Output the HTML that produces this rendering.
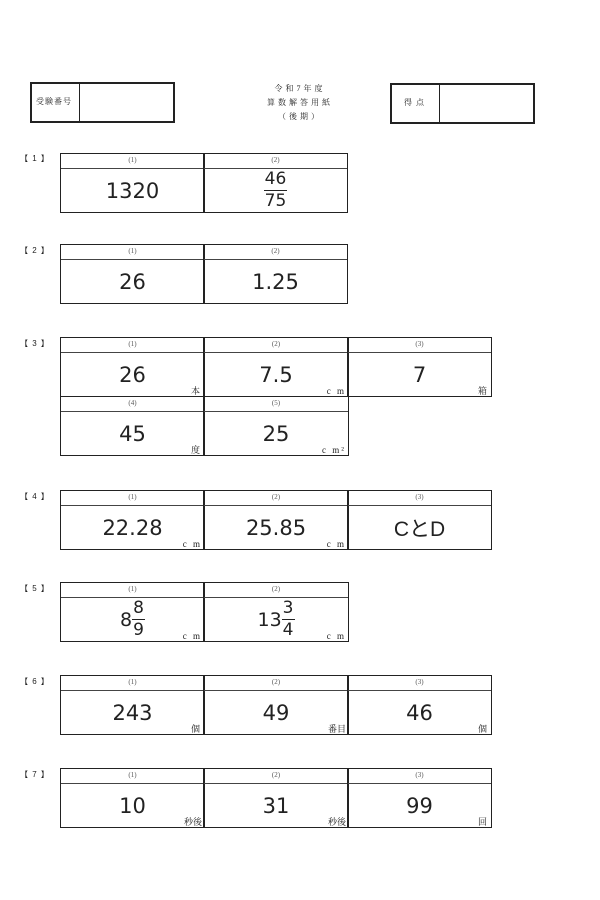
<!DOCTYPE html>
<html><head><meta charset="utf-8"><style>
body{margin:0;width:600px;height:900px;background:#fff;position:relative;font-family:"Liberation Serif","Noto Serif CJK SC",serif;color:#222;overflow:hidden}
.a{position:absolute}
.box{position:absolute;border:2px solid #222;box-sizing:border-box}
.t{position:absolute;box-sizing:border-box;border:1.6px solid #222;display:flex;flex-direction:column}
.hd{height:14px;border-bottom:1px solid #444;font-size:7px;text-align:center;line-height:13px;color:#555}
.bd{flex:1;position:relative;font-family:"DejaVu Sans",sans-serif;font-size:21px;display:flex;align-items:center;justify-content:center}
.u{position:absolute;right:2px;bottom:0;font-family:"Liberation Serif","Noto Serif CJK SC",serif;font-size:9px;line-height:10px;letter-spacing:2px}
.lab{position:absolute;left:20px;font-size:8px;font-family:"Liberation Sans","Noto Sans CJK JP",sans-serif;letter-spacing:1px}
.fr{display:inline-flex;flex-direction:column;align-items:center;line-height:21px}
.fr span:first-child{border-bottom:1.5px solid #222;padding:0 1px}
</style></head><body>
<div class="box" style="left:30px;top:82px;width:145px;height:41px"></div>
<div class="a" style="left:79px;top:82px;width:1px;height:41px;background:#222"></div>
<div class="a" style="left:36px;top:96px;font-size:8px;letter-spacing:1px">受験番号</div>
<div class="a" style="left:240px;top:82px;width:120px;text-align:center;font-size:8px;line-height:14px;letter-spacing:3px">令和7年度<br>算数解答用紙<br>（後期）</div>
<div class="box" style="left:390px;top:83px;width:145px;height:41px"></div>
<div class="a" style="left:439px;top:83px;width:1px;height:41px;background:#222"></div>
<div class="a" style="left:404px;top:97px;font-size:8px;letter-spacing:4px">得点</div>

<div class="lab" style="top:153px">【 1 】</div>
<div class="t" style="left:60px;top:153px;width:145px;height:60px"><div class="hd">(1)</div><div class="bd">1320</div></div>
<div class="t" style="left:203px;top:153px;width:145px;height:60px"><div class="hd">(2)</div><div class="bd" style="font-size:17px"><div class="fr"><span>46</span><span>75</span></div></div></div>

<div class="lab" style="top:245px">【 2 】</div>
<div class="t" style="left:60px;top:244px;width:145px;height:60px"><div class="hd">(1)</div><div class="bd">26</div></div>
<div class="t" style="left:203px;top:244px;width:145px;height:60px"><div class="hd">(2)</div><div class="bd">1.25</div></div>

<div class="lab" style="top:338px">【 3 】</div>
<div class="t" style="left:60px;top:337px;width:145px;height:60px"><div class="hd">(1)</div><div class="bd">26<span class="u">本</span></div></div>
<div class="t" style="left:203px;top:337px;width:146px;height:60px"><div class="hd">(2)</div><div class="bd">7.5<span class="u">c m</span></div></div>
<div class="t" style="left:347px;top:337px;width:145px;height:60px"><div class="hd">(3)</div><div class="bd">7<span class="u">箱</span></div></div>
<div class="t" style="left:60px;top:396px;width:145px;height:60px"><div class="hd">(4)</div><div class="bd">45<span class="u">度</span></div></div>
<div class="t" style="left:203px;top:396px;width:146px;height:60px"><div class="hd">(5)</div><div class="bd">25<span class="u">c m²</span></div></div>

<div class="lab" style="top:491px">【 4 】</div>
<div class="t" style="left:60px;top:490px;width:145px;height:60px"><div class="hd">(1)</div><div class="bd">22.28<span class="u">c m</span></div></div>
<div class="t" style="left:203px;top:490px;width:146px;height:60px"><div class="hd">(2)</div><div class="bd">25.85<span class="u">c m</span></div></div>
<div class="t" style="left:347px;top:490px;width:145px;height:60px"><div class="hd">(3)</div><div class="bd" style="font-family:'Liberation Sans','Noto Sans CJK JP',sans-serif">CとD</div></div>

<div class="lab" style="top:583px">【 5 】</div>
<div class="t" style="left:60px;top:582px;width:145px;height:60px"><div class="hd">(1)</div><div class="bd" style="font-size:19px">8<div class="fr" style="font-size:17px"><span>8</span><span>9</span></div><span class="u">c m</span></div></div>
<div class="t" style="left:203px;top:582px;width:146px;height:60px"><div class="hd">(2)</div><div class="bd" style="font-size:19px">13<div class="fr" style="font-size:17px"><span>3</span><span>4</span></div><span class="u">c m</span></div></div>

<div class="lab" style="top:676px">【 6 】</div>
<div class="t" style="left:60px;top:675px;width:145px;height:60px"><div class="hd">(1)</div><div class="bd">243<span class="u">個</span></div></div>
<div class="t" style="left:203px;top:675px;width:146px;height:60px"><div class="hd">(2)</div><div class="bd">49<span class="u" style="letter-spacing:0">番目</span></div></div>
<div class="t" style="left:347px;top:675px;width:145px;height:60px"><div class="hd">(3)</div><div class="bd">46<span class="u">個</span></div></div>

<div class="lab" style="top:769px">【 7 】</div>
<div class="t" style="left:60px;top:768px;width:145px;height:60px"><div class="hd">(1)</div><div class="bd">10<span class="u" style="letter-spacing:0">秒後</span></div></div>
<div class="t" style="left:203px;top:768px;width:146px;height:60px"><div class="hd">(2)</div><div class="bd">31<span class="u" style="letter-spacing:0">秒後</span></div></div>
<div class="t" style="left:347px;top:768px;width:145px;height:60px"><div class="hd">(3)</div><div class="bd">99<span class="u">回</span></div></div>
</body></html>
